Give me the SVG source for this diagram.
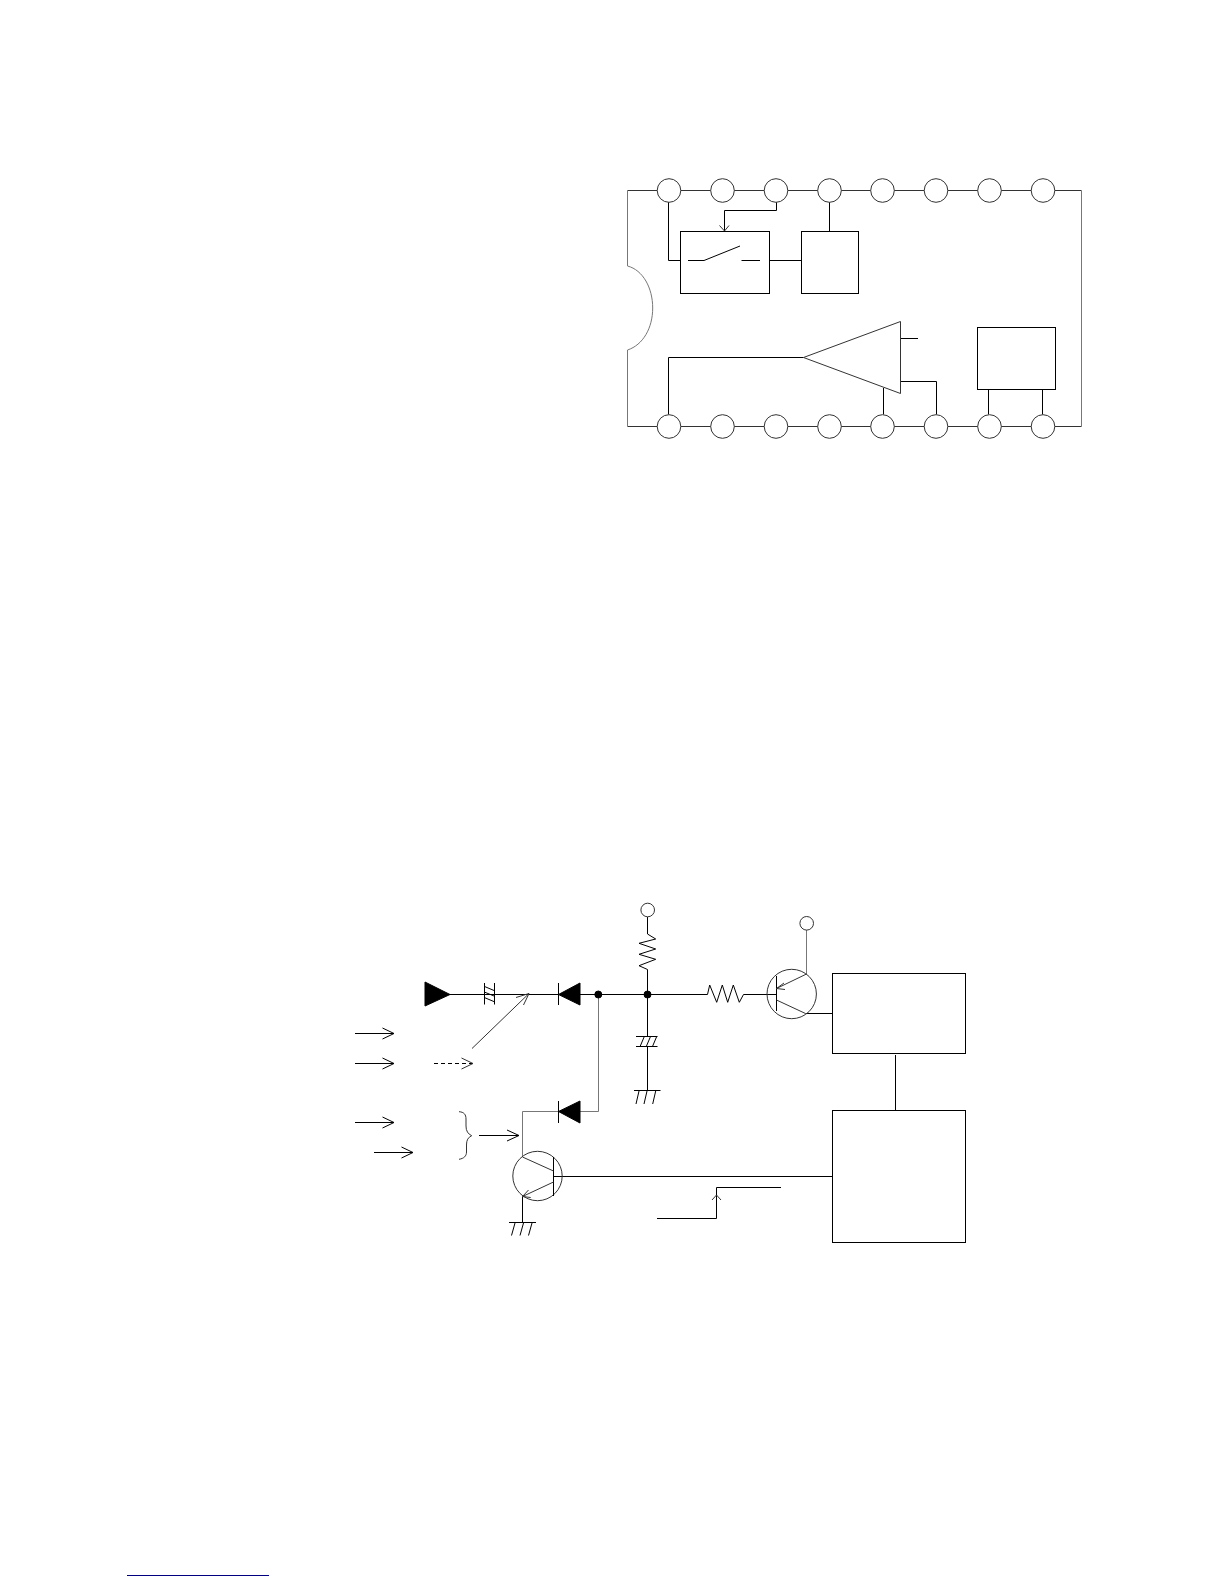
<svg xmlns="http://www.w3.org/2000/svg" width="1224" height="1584" viewBox="0 0 1224 1584">
<style>
path,line,rect,circle,polyline,polygon{fill:none;stroke:#000;stroke-width:1}
.g{stroke:#777}
.c{fill:#fff;stroke:#333}
.t{stroke:#333}
.s{fill:#000}
.a{stroke:#333}
.d{stroke-dasharray:4 3}
</style>
<rect x="0" y="0" width="1224" height="1584" style="fill:#fff;stroke:none"/>
<g id="connectors">
<path d="M627.5 190.5H1081.5" class="t"/><path d="M627.5 426.5H1081.5" class="t"/>
<path d="M1081.5 190.5V426.5" class="g"/>
<path d="M627.5 190.5V266C643 270 652.7 288 652.7 308C652.7 328 643 345 627.5 350V426.5" class="g"/>
<path d="M668.5 202V260.5H680.5"/>
<path d="M776.5 202V210.5H724.5V231"/>
<path d="M719.5 225.5L724.5 231L729 225.5" class="a"/>
<path d="M829.5 202V231.5"/>
<path d="M769.5 260.5H801.5"/>
<path d="M668.5 414.5V357.5H803.5"/>
<path d="M900.5 338.5H918"/>
<path d="M900.5 381.5H936.5V414.5"/>
<path d="M883.5 388V414.5"/>
<path d="M988.5 389.5V414.5"/>
<path d="M1042.5 389.5V414.5"/>
<path d="M449 994.5H558.5"/>
<path d="M580 994.5H707.5"/>
<path d="M647.5 917V934"/><path d="M647.5 969.5V1036.5"/><path d="M647.5 1046.5V1090.5"/>
<path d="M743.5 994.5H776.5"/>
<path d="M598.5 994.5V1111.5H580" class="g"/>
<path d="M558.5 1111.5H522.5V1157" class="g"/>
<path d="M522.5 1196.5V1222.5"/>
<path d="M553.5 1176.5H832.5"/>
<path d="M805.5 1013.5H832.5"/>
<path d="M806.5 930V974" class="g"/>
<path d="M895.5 1055V1110.5"/>
<path d="M657 1218.5H716.5V1187.5H781"/>
<path d="M712 1200L716.5 1195L721 1200" class="a"/>
<path d="M355 1033.5H394M382.5 1028L394 1033.5L382.5 1039"/>
<path d="M355 1063.5H394M382.5 1058L394 1063.5L382.5 1069"/>
<path d="M355 1122.5H394M382.5 1117L394 1122.5L382.5 1128"/>
<path d="M374 1152.5H413M401.5 1147L413 1152.5L401.5 1158"/>
<path d="M434 1063.5H473" class="d"/><path d="M461.5 1058L473 1063.5L461.5 1069" class="a"/>
<path d="M472 1048.5L529 993.5" class="a"/><path d="M516 997.5L529 993.5L523.5 1005" class="a"/>
<path d="M479 1135.5H519M507 1130L519 1135.5L507 1141"/>
<path d="M459 1111.7C464 1112 466 1114.5 466 1119V1126C466 1131 468 1134 471.7 1135.7C468 1137.5 466.5 1140 466.5 1145V1152C466.5 1156 464 1158.5 459 1159.3" class="a"/>
</g>
<g id="pins">
<circle class="c" cx="669" cy="190.5" r="11.8"/><circle class="c" cx="722.5" cy="190.5" r="11.8"/><circle class="c" cx="776" cy="190.5" r="11.8"/><circle class="c" cx="829.5" cy="190.5" r="11.8"/><circle class="c" cx="882.5" cy="190.5" r="11.8"/><circle class="c" cx="936" cy="190.5" r="11.8"/><circle class="c" cx="989.5" cy="190.5" r="11.8"/><circle class="c" cx="1043" cy="190.5" r="11.8"/>
<circle class="c" cx="669" cy="426.5" r="11.8"/><circle class="c" cx="722.5" cy="426.5" r="11.8"/><circle class="c" cx="776" cy="426.5" r="11.8"/><circle class="c" cx="829.5" cy="426.5" r="11.8"/><circle class="c" cx="882.5" cy="426.5" r="11.8"/><circle class="c" cx="936" cy="426.5" r="11.8"/><circle class="c" cx="989.5" cy="426.5" r="11.8"/><circle class="c" cx="1043" cy="426.5" r="11.8"/>
</g>
<g id="switch-box"><rect x="680.5" y="231.5" width="89" height="62"/><path d="M688 260.5H704L740 246"/><path d="M741.5 260.5H760"/></g>
<g id="box-2"><rect x="801.5" y="231.5" width="57" height="62"/></g>
<g id="amp"><polygon class="t" points="803.5,357.5 900.5,321.5 900.5,393.5"/></g>
<g id="box-3"><rect x="977.5" y="327.5" width="78" height="62"/></g>
<g id="input"><polygon class="s" points="425,982 425,1006 450,994.5"/></g>
<g id="coupling-cap"><path d="M484.5 983V1004.5M494.5 983V1004.5M485 986.7L494.5 990.7M485 992.3L494.5 996.2M485 997.8L494.5 1001.8"/></g>
<g id="diode-1"><path d="M558.5 983V1005"/><polygon class="s" points="558.5,994.5 580,983 580,1005"/></g>
<g id="diode-2"><path d="M558.5 1101V1123"/><polygon class="s" points="558.5,1111.5 580,1101 580,1123"/></g>
<g id="dots"><circle class="s" cx="598.3" cy="994.5" r="3.5"/><circle class="s" cx="647.5" cy="994.5" r="3.5"/></g>
<g id="vcc-1"><circle class="t" cx="647.7" cy="910" r="6.8"/></g>
<g id="resistor-1"><path d="M647.5 934L655.7 939L639 943.3L655.7 949L639 954.3L655.7 959.3L639 965.7L647.5 969.5"/></g>
<g id="resistor-2"><path d="M707.5 994.5L709.7 985L716.7 1002.3L722.3 985L727.7 1002.3L733.3 985L739.3 1002.3L743.5 994.5"/></g>
<g id="cap-2"><path d="M636 1036.5H657.5M636 1046.5H657.5M640.3 1046L644.3 1036.5M646.5 1046L650.5 1036.5M652.7 1046L656.7 1036.5"/></g>
<g id="ground-1"><path d="M634 1090.5H660.5M636 1104L639 1091M644 1104L647 1091M652.7 1104L655.7 1091"/></g>
<g id="transistor-1"><circle class="t" cx="791.7" cy="994" r="24.7"/><path d="M776.5 976V1011"/><path d="M776.5 1000L805.5 1013.5" class="a"/><path d="M806.5 974L776.5 988.5" class="a"/><path d="M784 983L776.5 988.5L785 989.5" class="a"/></g>
<g id="transistor-2"><circle class="t" cx="537.5" cy="1176" r="24.7"/><path d="M553.5 1157V1196"/><path d="M522.5 1157L553.5 1171" class="a"/><path d="M553.5 1182L522.5 1196.5" class="a"/><path d="M528.5 1190L522.5 1196.5L530.7 1197.5" class="a"/></g>
<g id="ground-2"><path d="M509 1222.5H536M511.5 1235.5L515 1223M520 1235.5L523.5 1223M528.5 1235.5L532 1223"/></g>
<g id="vcc-2"><circle class="t" cx="806.7" cy="923.3" r="6.8"/></g>
<g id="box-upper"><rect x="832.5" y="973.5" width="133" height="80"/></g>
<g id="box-lower"><rect x="832.5" y="1110.5" width="133" height="132"/></g>
<g id="footnote-rule"><path d="M127 1575.5H269" style="stroke:#000080"/></g>
</svg>
